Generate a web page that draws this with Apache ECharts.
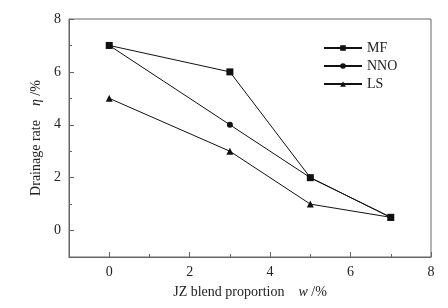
<!DOCTYPE html>
<html>
<head>
<meta charset="utf-8">
<script src="https://cdn.jsdelivr.net/npm/echarts@6/dist/echarts.min.js"></script>
<style>
  html, body { margin: 0; padding: 0; background: #fff; }
  #chart { width: 448px; height: 308px; }
</style>
</head>
<body>
<div id="chart"></div>
<script>
const blendX = [0, 3, 5, 7];
const mfValues = [7, 6, 2, 0.5];
const nnoValues = [7, 4, 2, 0.5];
const lsValues = [5, 3, 1, 0.5];
const majorTicks = [0, 2, 4, 6, 8];
const minorTicks = [1, 3, 5, 7];

const font = "Liberation Serif";
const axisColor = "#666";
const lineColor = "#111";

function pairs(ys) {
    return blendX.map((x, i) => [x, ys[i]]);
}

const chart = echarts.init(document.getElementById("chart"), null, { renderer: "canvas" });

// two axes per direction: one for long (labelled) ticks, one for short ticks
function axisPair(dim) {
    const base = {
        type: "value",
        min: -1,
        max: 8,
        interval: 1,
        splitLine: { show: false },
        axisLine: { show: true, onZero: false, lineStyle: { color: axisColor, width: 1 } },
    };
    const main = Object.assign({}, base, {
        axisTick: { show: true, inside: true, length: 5, customValues: majorTicks, lineStyle: { color: axisColor } },
        axisLabel: { show: true, customValues: majorTicks, color: "#222", fontFamily: font, fontSize: 14, margin: 8 },
    });
    const minor = Object.assign({}, base, {
        axisLine: { show: false, onZero: false },
        axisTick: { show: true, inside: true, length: 3, customValues: minorTicks, lineStyle: { color: axisColor } },
        axisLabel: { show: false },
    });
    if (dim === "x") {
        main.name = "{t|JZ blend proportion}    {i|w} {t|/%}";
        main.nameLocation = "middle";
        main.nameGap = 28;
        main.position = "bottom";
        minor.position = "bottom";
    } else {
        main.name = "{t|Drainage rate}    {i|η} {t|/%}";
        main.nameLocation = "middle";
        main.nameGap = 25;
        main.position = "left";
        minor.position = "left";
    }
    main.nameTextStyle = {
        color: "#222",
        fontFamily: font,
        fontSize: 14,
        rich: {
            t: { fontFamily: font, fontSize: 14, color: "#222" },
            i: { fontFamily: font, fontSize: 14, fontStyle: "italic", color: "#222" },
        },
    };
    return [main, minor];
}

function lineSeries(name, ys, symbol, size) {
    return {
        name: name,
        type: "line",
        xAxisIndex: 0,
        yAxisIndex: 0,
        data: pairs(ys),
        symbol: symbol,
        symbolSize: size,
        showAllSymbol: true,
        lineStyle: { color: lineColor, width: 1 },
        itemStyle: { color: lineColor },
        emphasis: { disabled: true },
    };
}

chart.setOption({
    animation: false,
    backgroundColor: "#fff",
    grid: {
        left: 69, right: 17, top: 19, bottom: 51,
        show: true, borderColor: axisColor, borderWidth: 1,
    },
    legend: {
        orient: "vertical",
        left: 318,
        top: 36,
        itemWidth: 38,
        itemHeight: 7,
        itemGap: 4,
        textStyle: { fontFamily: font, fontSize: 14, color: "#222" },
        data: ["MF", "NNO", "LS"],
    },
    xAxis: axisPair("x"),
    yAxis: axisPair("y"),
    series: [
        lineSeries("MF", mfValues, "rect", 7),
        lineSeries("NNO", nnoValues, "circle", 6),
        lineSeries("LS", lsValues, "triangle", 7),
    ],
});
</script>
</body>
</html>
